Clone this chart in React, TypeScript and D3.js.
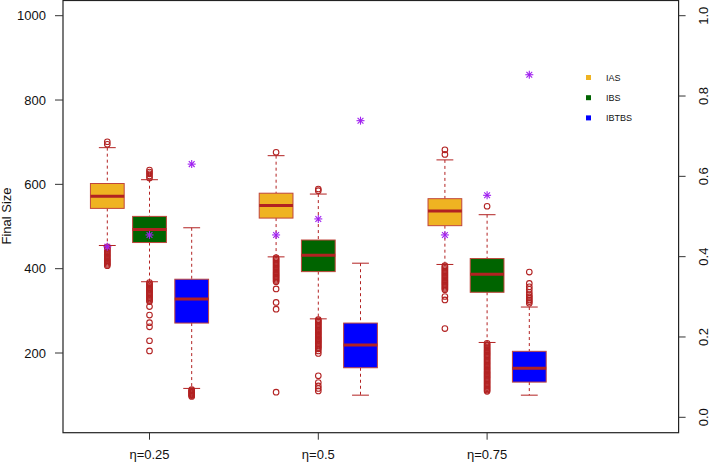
import React from "react";
import * as d3 from "d3";

const groups = ["η=0.25", "η=0.5", "η=0.75"];
const seriesNames = ["IAS", "IBS", "IBTBS"];
const seriesColors = ["#EFB322", "#006400", "#0000FF"];

// box statistics per series, one value per group
const lowerWhisker = [
  [455, 428, 410],
  [369, 281, 225],
  [116, 100, 100],
];
const q1 = [
  [543, 520, 502],
  [462, 393, 344],
  [271, 165, 131],
];
const median = [
  [572, 550, 537],
  [493, 432, 387],
  [328, 219, 164],
];
const q3 = [
  [602, 579, 566],
  [524, 468, 424],
  [375, 271, 204],
];
const upperWhisker = [
  [687, 668, 658],
  [611, 577, 528],
  [497, 413, 309],
];

// star markers (reference values)
const stars = [
  [452, 480, 480],
  [480, 518, 574],
  [648, 751, 860],
];

// outliers: [series][group]
const outliers = [
  [
    [695, 701, 452, 449, 446, 443, 440, 437, 434, 431, 428, 425, 422, 419, 416, 413, 410, 407],
    [676, 426, 423, 420, 417, 414, 411, 408, 405, 402, 399, 396, 393, 390, 387, 384, 381, 378, 375, 372, 369, 352, 320, 304, 107],
    [671, 682, 407, 404, 401, 398, 395, 392, 389, 386, 383, 380, 377, 374, 371, 368, 365, 362, 359, 356, 353, 350, 334, 326, 258],
  ],
  [
    [615, 620, 625, 629, 634, 367, 364, 361, 358, 355, 352, 349, 346, 343, 340, 337, 334, 331, 328, 325, 322, 310, 290, 272, 262, 229, 205],
    [585, 589, 279, 276, 273, 270, 267, 264, 261, 258, 255, 252, 249, 246, 243, 240, 237, 234, 231, 228, 225, 222, 219, 216, 213, 210, 205, 199, 146, 130, 122, 116, 110],
    [548, 223, 220, 217, 214, 211, 208, 205, 202, 199, 196, 193, 190, 187, 184, 181, 178, 175, 172, 169, 166, 163, 160, 157, 154, 151, 148, 145, 142, 139, 136, 133, 130, 127, 124, 121, 118, 115, 112, 109],
  ],
  [
    [113, 111, 109, 107, 105, 103, 101, 99, 97],
    [],
    [318, 322, 326, 330, 334, 338, 344, 351, 357, 365, 392],
  ],
];

const leftTicks = [200, 400, 600, 800, 1000];
const rightTicks = [0, 0.2, 0.4, 0.6, 0.8, 1.0];

const W = 709;
const H = 463;
const frame = { left: 63, right: 678.6, top: 0.5, bottom: 432.7 };
const boxColor = "#B22222";
const borderColor = "#C0463C";
const starColor = "#A020F0";

export default function App() {
  const x = d3.scaleLinear().domain([1, 11]).range([107.3, 529.3]);
  const y = d3.scaleLinear().domain([200, 1000]).range([353, 15.7]);
  const yR = d3.scaleLinear().domain([0, 1]).range([417.3, 15.7]);
  const halfBox = (x(2) - x(1)) * 0.4;
  const halfCap = halfBox / 2;
  const font = "'Liberation Sans', Arial, Helvetica, sans-serif";

  const boxes: React.ReactNode[] = [];
  groups.forEach((g, gi) => {
    seriesNames.forEach((s, si) => {
      const cx = x(1 + gi * 4 + si);
      const key = `${gi}-${si}`;
      boxes.push(
        <g key={key}>
          <line x1={cx} x2={cx} y1={y(upperWhisker[si][gi])} y2={y(q3[si][gi])} stroke={boxColor} strokeDasharray="3,3" strokeWidth={1} />
          <line x1={cx} x2={cx} y1={y(q1[si][gi])} y2={y(lowerWhisker[si][gi])} stroke={boxColor} strokeDasharray="3,3" strokeWidth={1} />
          <line x1={cx - halfCap} x2={cx + halfCap} y1={y(upperWhisker[si][gi])} y2={y(upperWhisker[si][gi])} stroke={boxColor} strokeWidth={1} />
          <line x1={cx - halfCap} x2={cx + halfCap} y1={y(lowerWhisker[si][gi])} y2={y(lowerWhisker[si][gi])} stroke={boxColor} strokeWidth={1} />
          <rect x={cx - halfBox} width={2 * halfBox} y={y(q3[si][gi])} height={y(q1[si][gi]) - y(q3[si][gi])} fill={seriesColors[si]} stroke={borderColor} strokeWidth={1} />
          <line x1={cx - halfBox} x2={cx + halfBox} y1={y(median[si][gi])} y2={y(median[si][gi])} stroke={boxColor} strokeWidth={3} />
          {outliers[si][gi].map((v, i) => (
            <circle key={i} cx={cx} cy={y(v)} r={2.8} fill="none" stroke={boxColor} strokeWidth={1.1} />
          ))}
          {(() => {
            const sy = y(stars[si][gi]);
            const a = 4;
            const d = 2.9;
            return (
              <g stroke={starColor} strokeWidth={1.1}>
                <line x1={cx - a} x2={cx + a} y1={sy} y2={sy} />
                <line x1={cx} x2={cx} y1={sy - a} y2={sy + a} />
                <line x1={cx - d} x2={cx + d} y1={sy - d} y2={sy + d} />
                <line x1={cx - d} x2={cx + d} y1={sy + d} y2={sy - d} />
              </g>
            );
          })()}
        </g>
      );
    });
  });

  return (
    <svg width={W} height={H} style={{ position: "fixed", left: 0, top: 0 }} fontFamily={font}>
      <rect x={0} y={0} width={W} height={H} fill="#fff" />
      {boxes}
      <rect x={frame.left} y={frame.top} width={frame.right - frame.left} height={frame.bottom - frame.top} fill="none" stroke="#222" strokeWidth={1.2} />
      {/* left axis */}
      {leftTicks.map((t) => (
        <g key={t}>
          <line x1={frame.left - 8} x2={frame.left} y1={y(t)} y2={y(t)} stroke="#333" />
          <text x={frame.left - 17} y={y(t)} dy="0.35em" textAnchor="end" fontSize={13} fill="#111">{t}</text>
        </g>
      ))}
      <text transform={`translate(11, 216) rotate(-90)`} textAnchor="middle" fontSize={13} fill="#111">Final Size</text>
      {/* right axis */}
      {rightTicks.map((t) => (
        <g key={t}>
          <line x1={frame.right} x2={frame.right + 7} y1={yR(t)} y2={yR(t)} stroke="#333" />
          <text transform={`translate(707.5, ${yR(t)}) rotate(-90)`} textAnchor="middle" fontSize={13} fill="#111">{t.toFixed(1)}</text>
        </g>
      ))}
      {/* x axis */}
      {groups.map((g, gi) => {
        const cx = x(2 + gi * 4);
        return (
          <g key={g}>
            <line x1={cx} x2={cx} y1={frame.bottom} y2={frame.bottom + 7} stroke="#333" />
            <text x={cx} y={459} textAnchor="middle" fontSize={13} fill="#111">{g}</text>
          </g>
        );
      })}
      {/* legend */}
      {seriesNames.map((s, si) => {
        const ly = 77.5 + si * 20.2;
        return (
          <g key={s}>
            <rect x={586} y={ly - 2.5} width={5} height={5} fill={seriesColors[si]} />
            <text x={606} y={ly} dy="0.35em" fontSize={9} fill="#111">{s}</text>
          </g>
        );
      })}
    </svg>
  );
}
